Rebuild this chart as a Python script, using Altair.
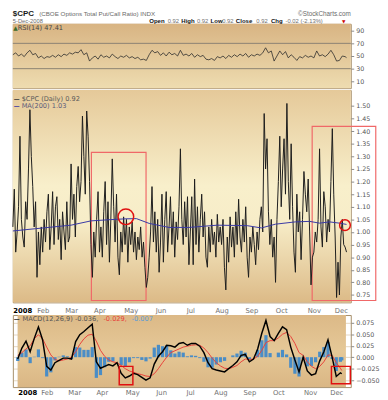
import altair as alt
import pandas as pd

# ---------------- data ----------------
months = ["2008", "Feb", "Mar", "Apr", "May", "Jun", "Jul", "Aug", "Sep", "Oct", "Nov", "Dec"]
month_start = [0, 21, 41, 61, 83, 104, 125, 147, 168, 189, 212, 231]   # session index of 1st trading day

cpc_jan = [1.02, 1.17, 0.92, 1.00, 1.10, 1.38, 1.05, 0.98, 0.94, 1.12, 1.05, 1.25, 1.485, 1.30, 1.18, 1.02, 1.12, 0.82, 1.00, 0.87, 1.02]
cpc_feb = [0.92, 1.05, 0.96, 1.08, 1.15, 0.93, 1.02, 1.16, 0.95, 1.10, 1.14, 0.97, 1.05, 0.89, 1.08, 1.00, 0.93, 1.12, 0.96, 0.98]
cpc_mar = [1.27, 1.05, 1.15, 0.98, 1.18, 1.26, 1.12, 1.20, 1.46, 1.30, 1.15, 1.48, 1.38, 1.20, 0.95, 0.82, 1.00, 0.90, 1.05, 1.16]
cpc_apr = [0.92, 1.02, 0.90, 1.08, 1.20, 0.95, 1.12, 0.88, 1.05, 1.29, 1.10, 0.96, 1.15, 0.90, 0.83, 1.00, 0.92, 1.06, 0.95, 1.05, 0.88, 1.02]
cpc_may = [0.95, 1.04, 0.92, 1.00, 0.89, 0.98, 0.93, 1.02, 0.90, 0.96, 0.86, 0.78, 0.82, 0.90, 1.00, 1.18, 0.96, 1.08, 0.92, 1.05, 0.84]
cpc_jun = [0.96, 1.15, 0.88, 1.05, 1.16, 0.92, 1.02, 1.14, 0.95, 1.08, 0.90, 1.04, 0.97, 1.10, 1.33, 1.05, 0.95, 1.12, 0.98, 1.14, 0.87]
cpc_jul = [1.00, 1.14, 0.87, 1.21, 0.95, 1.10, 0.92, 1.05, 1.15, 0.98, 1.08, 0.90, 0.86, 1.02, 0.92, 1.05, 0.95, 1.00, 0.90, 1.07, 0.96, 1.02]
cpc_aug = [0.95, 1.05, 0.86, 0.77, 0.98, 0.88, 1.06, 0.94, 1.02, 0.90, 1.08, 0.95, 1.13, 0.98, 0.92, 1.05, 0.96, 1.10, 0.90, 0.82, 0.98]
cpc_sep = [0.92, 1.02, 0.95, 0.87, 1.00, 0.93, 1.05, 1.10, 1.00, 1.47, 1.25, 1.37, 1.08, 0.95, 1.05, 0.90, 0.98, 0.80, 1.05, 1.20, 1.38]
cpc_oct = [1.10, 1.25, 1.37, 1.15, 1.51, 1.20, 1.05, 1.35, 1.10, 0.92, 0.84, 1.15, 1.00, 1.08, 0.89, 1.05, 1.24, 1.15, 1.08, 1.21, 1.00, 0.79, 0.90]
cpc_nov = [0.92, 1.00, 0.96, 1.05, 1.33, 1.02, 0.94, 1.16, 1.10, 0.96, 1.05, 1.00, 1.20, 1.41, 1.15, 0.98, 0.74, 0.88, 0.75]
cpc_dec = [0.98, 1.05, 0.95, 0.94, 0.92]

ma_idx = [0, 16, 41, 55, 69, 79, 87, 96, 110, 124, 144, 165, 175, 185, 199, 209, 216, 223, 230, 235]
ma_val = [1.004, 1.013, 1.027, 1.044, 1.049, 1.052, 1.053, 1.034, 1.018, 1.018, 1.027, 1.025, 1.016, 1.031,
          1.040, 1.042, 1.035, 1.040, 1.035, 1.030]

# RSI(14), every second session, plus the last one
rsi_val = [52, 55, 50, 53, 49, 55, 59, 52, 54, 47,
           50, 46, 49, 48, 51, 48, 52, 49, 53, 51,
           55, 53, 56, 55, 60, 52, 55, 42, 47, 50,
           45, 52, 48, 50, 47, 53, 49, 46, 50, 48,
           51, 47, 49, 46, 48, 44, 45, 43, 52, 59,
           55, 57, 51, 55, 50, 56, 52, 54, 50, 59,
           51, 53, 50, 54, 48, 52, 49, 51, 45, 44,
           46, 43, 49, 47, 50, 46, 51, 48, 52, 49,
           53, 50, 54, 48, 52, 50, 53, 51, 55, 63,
           55, 58, 42, 50, 58, 52, 57, 47, 52, 48,
           43, 49, 47, 51, 48, 50, 47, 58, 50, 52,
           49, 53, 59, 52, 42, 43, 50, 49, 47.41]
rsi_idx = list(range(0, 236, 2)) + [235]

# MACD(12,26,9) and signal, every third session, plus the last one
macd_val = [-0.004, 0.020, 0.035, 0.012, 0.041, 0.066, 0.038, -0.020, -0.028, -0.012,
            -0.007, -0.002, -0.002, -0.004, 0.034, 0.049, 0.056, 0.064, 0.072, -0.010,
            -0.024, -0.020, -0.016, -0.019, -0.012, -0.035, -0.045, -0.041, -0.035, -0.038,
            -0.044, -0.050, -0.045, -0.015, 0.002, 0.012, 0.026, 0.025, 0.022, 0.030,
            0.032, 0.026, 0.030, 0.030, 0.024, 0.010, -0.012, -0.025, -0.028, -0.030,
            -0.032, -0.025, -0.018, -0.010, 0.004, 0.006, -0.010, -0.004, 0.018, 0.052,
            0.080, 0.045, 0.036, 0.052, 0.066, 0.060, 0.022, -0.006, -0.032, 0.000,
            -0.030, -0.039, -0.036, -0.008, 0.012, 0.038, 0.000, -0.042, -0.034, -0.036]
signal_val = [0.004, 0.010, 0.018, 0.025, 0.040, 0.049, 0.040, 0.022, 0.005, -0.005,
              -0.008, -0.006, -0.004, 0.000, 0.012, 0.028, 0.040, 0.048, 0.050, 0.035,
              0.015, 0.002, -0.006, -0.010, -0.012, -0.018, -0.025, -0.030, -0.033, -0.036,
              -0.038, -0.041, -0.042, -0.036, -0.025, -0.012, 0.000, 0.010, 0.014, 0.018,
              0.022, 0.024, 0.026, 0.027, 0.026, 0.020, 0.010, -0.002, -0.012, -0.019,
              -0.024, -0.025, -0.022, -0.018, -0.010, -0.004, -0.005, -0.004, 0.002, 0.015,
              0.032, 0.036, 0.036, 0.042, 0.050, 0.054, 0.045, 0.030, 0.010, 0.004,
              -0.010, -0.020, -0.025, -0.020, -0.010, 0.005, 0.004, -0.012, -0.024, -0.029]
macd_idx = list(range(0, 236, 3)) + [235]

rsi_levels = [70, 30]
rsi_ticks = [10, 30, 50, 70, 90]
cpc_ticks = [0.75, 0.80, 0.85, 0.90, 0.95, 1.00, 1.05, 1.10, 1.15, 1.20, 1.25, 1.30, 1.35, 1.40, 1.45, 1.50]
macd_ticks = [-0.05, -0.025, 0.0, 0.025, 0.05, 0.075]

# hand-drawn red annotations (data units: session index / value)
box_x0 = [55.3, 210.8]
box_x1 = [93.8, 255.6]
box_top = [1.316, 1.419]
box_bot = [0.728, 0.728]
circle_i = [79.6, 233.9]
circle_v = [1.06, 1.027]
mbox_x0 = [73.6, 227.5]
mbox_x1 = [83.5, 241.2]
mbox_top = [-0.020, -0.020]
mbox_bot = [-0.060, -0.058]

# ---------------- tables ----------------
cpc = cpc_jan + cpc_feb + cpc_mar + cpc_apr + cpc_may + cpc_jun + cpc_jul + cpc_aug + cpc_sep + cpc_oct + cpc_nov + cpc_dec
cpc_df = pd.DataFrame({"i": list(range(len(cpc))), "v": cpc})
ma_df = pd.DataFrame({"i": ma_idx, "v": ma_val})
rsi_df = pd.DataFrame({"i": rsi_idx, "rsi": rsi_val})
lvl_df = pd.DataFrame({"lvl": rsi_levels})
macd_df = pd.DataFrame({"i": macd_idx, "macd": macd_val, "sig": signal_val})
macd_df["hist"] = macd_df["macd"] - macd_df["sig"]
box_df = pd.DataFrame({"x0": box_x0, "x1": box_x1, "top": box_top, "bot": box_bot})
mbox_df = pd.DataFrame({"x0": mbox_x0, "x1": mbox_x1, "top": mbox_top, "bot": mbox_bot})
circ1_df = pd.DataFrame({"i": [circle_i[0]], "v": [circle_v[0]]})
circ2_df = pd.DataFrame({"i": [circle_i[1]], "v": [circle_v[1]]})
one = pd.DataFrame({"k": [0]})

# ---------------- styling helpers ----------------
W = 347
X_DOM = [0, 238]
RSI_DOM = [-0.8, 100.8]
MAIN_DOM = [0.7206, 1.563]
MACD_DOM = [-0.0651, 0.0918]
GRID = "#c2a474"
BORDER = "#a58d68"
label_expr = ("[" + ",".join("'%s'" % m for m in months) + "][indexof(["
              + ",".join(str(s) for s in month_start) + "], datum.value)]")


def x_axis(show, pad=2):
    return alt.Axis(values=month_start, labelExpr=label_expr, labels=show, ticks=False, domain=False,
                    grid=True, gridColor=GRID, gridOpacity=0.45, gridWidth=1, title=None,
                    labelFont="DejaVu Sans", labelFontSize=7, labelPadding=pad, labelOverlap=False,
                    labelFlush=False, labelBaseline="top",
                    labelAlign={"condition": {"test": "datum.value == 0", "value": "left"}, "value": "center"},
                    labelColor={"condition": {"test": "datum.value == 0", "value": "#000000"}, "value": "#707070"},
                    labelFontWeight={"condition": {"test": "datum.value == 0", "value": "bold"}, "value": "normal"})


def X(field, show, pad=2):
    return alt.X(f"{field}:Q", scale=alt.Scale(domain=X_DOM, nice=False, zero=False), axis=x_axis(show, pad))


def y_axis(values, fmt):
    return alt.Axis(orient="right", values=values, format=fmt, title=None, grid=True, gridColor=GRID,
                    gridOpacity=0.45, domain=False, ticks=True, tickSize=3, tickColor="#8a8a8a",
                    labelFont="DejaVu Sans", labelFontSize=6.5, labelColor="#555555", labelPadding=2)


rsi_scale = alt.Scale(domain=RSI_DOM, nice=False, zero=False)
main_scale = alt.Scale(domain=MAIN_DOM, nice=False, zero=False)
macd_scale = alt.Scale(domain=MACD_DOM, nice=False, zero=False)


def Yr(f):
    return alt.Y(f"{f}:Q", scale=rsi_scale, axis=y_axis(rsi_ticks, "d"))


def Ym(f):
    return alt.Y(f"{f}:Q", scale=main_scale, axis=y_axis(cpc_ticks, ".2f"))


def Yd(f):
    return alt.Y(f"{f}:Q", scale=macd_scale, axis=y_axis(macd_ticks, ".3f"))


def txt(s, x, y, size=7, color="#555555", weight="normal", font="Liberation Sans", align="left",
        baseline="top"):
    return alt.Chart(one).mark_text(text=s, fontSize=size, color=color, fontWeight=weight, font=font,
                                    align=align, baseline=baseline).encode(x=alt.value(x), y=alt.value(y))


def grad(stops):
    return alt.LinearGradient(gradient="linear", x1=0, x2=0, y1=0, y2=1,
                              stops=[alt.GradientStop(color=c, offset=o) for o, c in stops])


def background(stops, Yf, dom, show, pad=2):
    bg = pd.DataFrame({"bx0": [X_DOM[0]], "bx1": [X_DOM[1]], "by0": [dom[1]], "by1": [dom[0]]})
    return alt.Chart(bg).mark_rect(fill=grad(stops), strokeWidth=0).encode(
        x=X("bx0", show, pad), x2="bx1:Q", y=Yf("by0"), y2="by1:Q")


LEG = "DejaVu Sans"
VIEW = alt.ViewBackground(stroke=BORDER, strokeWidth=1)
L1 = -14.0     # top of header line 1 (relative to RSI panel)
L2 = -6.2      # top of header line 2
MP = 4         # label padding of the price panel's month axis

# ---------------- RSI panel ----------------
rsi_panel = alt.layer(
    background([(0, "#d8b483"), (1, "#eedcb0")], Yr, RSI_DOM, False),
    alt.Chart(lvl_df).mark_rule(color="#8a8272", strokeWidth=1).encode(y=Yr("lvl")),
    alt.Chart(rsi_df).mark_line(color="#2a2a2a", strokeWidth=0.8).encode(x=X("i", False), y=Yr("rsi")),
    txt("\u25B2", 0.5, 4.5, size=6, color="#3d6b2a", font="DejaVu Sans", baseline="middle"),
    txt("RSI(14) 47.41", 5, 4.5, size=6.8, color="#444444", font=LEG, baseline="middle"),
    # header line 1
    txt("$CPC", 0, L1, size=8.2, color="#1a1a1a", weight="bold"),
    txt("(CBOE Options Total Put/Call Ratio) INDX", 27, L1 + 1.3, size=6.4, color="#6a6a6a"),
    txt("\u00A9StockCharts.com", W, L1 + 1.3, size=6.5, color="#6a6a6a", align="right"),
    # header line 2
    txt("5-Dec-2008", 0, L2, size=5.9, color="#6a6a6a"),
    txt("Open", 140, L2, size=6.2, color="#111111", weight="bold"),
    txt("0.92", 159, L2 + 0.2, size=6.0, color="#707070"),
    txt("High", 173, L2, size=6.2, color="#111111", weight="bold"),
    txt("0.92", 189, L2 + 0.2, size=6.0, color="#707070"),
    txt("Low", 203, L2, size=6.2, color="#111111", weight="bold"),
    txt("0.92", 215, L2 + 0.2, size=6.0, color="#707070"),
    txt("Close", 229, L2, size=6.2, color="#111111", weight="bold"),
    txt("0.92", 250, L2 + 0.2, size=6.0, color="#707070"),
    txt("Chg", 265, L2, size=6.2, color="#111111", weight="bold"),
    txt("-0.02 (-2.13%)", 280, L2 + 0.2, size=6.0, color="#707070"),
    txt("\u25BC", 338, L2 + 1.3, size=4.6, color="#cc0000", font="DejaVu Sans"),
).properties(width=W, height=66, view=VIEW)

# ---------------- price panel ----------------
main_panel = alt.layer(
    background([(0, "#e5c999"), (0.45, "#f8efcb"), (0.62, "#f7edc8"), (1, "#dcba87")], Ym, MAIN_DOM, True, MP),
    alt.Chart(box_df).mark_rect(fillOpacity=0, stroke="#f06868", strokeWidth=1.2).encode(
        x=X("x0", True, MP), x2="x1:Q", y=Ym("top"), y2="bot:Q"),
    alt.Chart(cpc_df).mark_line(color="#1c1c1c", strokeWidth=1).encode(x=X("i", True, MP), y=Ym("v")),
    alt.Chart(ma_df).mark_line(color="#3535a5", strokeWidth=1).encode(x=X("i", True, MP), y=Ym("v")),
    alt.Chart(circ1_df).mark_point(shape="circle", size=256, filled=False, color="#e01010", strokeWidth=1.5,
                                   opacity=1).encode(x=X("i", True, MP), y=Ym("v")),
    alt.Chart(circ2_df).mark_point(shape="circle", size=121, filled=False, color="#e01010", strokeWidth=1.5,
                                   opacity=1).encode(x=X("i", True, MP), y=Ym("v")),
    txt("\u2014", 1, 9.5, size=6, color="#333333", weight="bold", font=LEG, baseline="middle"),
    txt("$CPC (Daily) 0.92", 9, 9.5, size=6.8, color="#5a5a5a", font=LEG, baseline="middle"),
    txt("\u2014", 1, 16.5, size=6, color="#3535a5", weight="bold", font=LEG, baseline="middle"),
    txt("MA(200) 1.03", 9, 16.5, size=6.8, color="#5a5a7a", font=LEG, baseline="middle"),
).properties(width=W, height=218, view=VIEW)

# ---------------- MACD panel ----------------
macd_panel = alt.layer(
    background([(0, "#dcb987"), (0.5, "#e5c897"), (1, "#dab684")], Yd, MACD_DOM, True),
    alt.Chart(macd_df).mark_bar(size=3.3, color="#4a8dc6").encode(x=X("i", True), y=Yd("hist"), y2=alt.datum(0)),
    alt.Chart(macd_df).mark_line(color="#e8403a", strokeWidth=1).encode(x=X("i", True), y=Yd("sig")),
    alt.Chart(macd_df).mark_line(color="#000000", strokeWidth=1.5).encode(x=X("i", True), y=Yd("macd")),
    alt.Chart(mbox_df).mark_rect(fillOpacity=0, stroke="#e01010", strokeWidth=1.5).encode(
        x=X("x0", True), x2="x1:Q", y=Yd("top"), y2="bot:Q"),
    txt("\u2014", 1, 4.5, size=6, color="#222222", weight="bold", font=LEG, baseline="middle"),
    txt("MACD(12,26,9) -0.036,", 10, 4.5, size=6.8, color="#555555", font=LEG, baseline="middle"),
    txt("-0.029,", 93, 4.5, size=6.8, color="#e8403a", font=LEG, baseline="middle"),
    txt("-0.007", 122, 4.5, size=6.8, color="#5b9bd5", font=LEG, baseline="middle"),
).properties(width=W, height=74, view=VIEW)

chart = alt.vconcat(rsi_panel, main_panel, macd_panel, spacing=0).properties(
    padding={"left": 2, "top": -5, "right": 0, "bottom": 0},
    background="#ffffff",
)

chart.save("out.html", embed_options={"renderer": "svg", "actions": False})
